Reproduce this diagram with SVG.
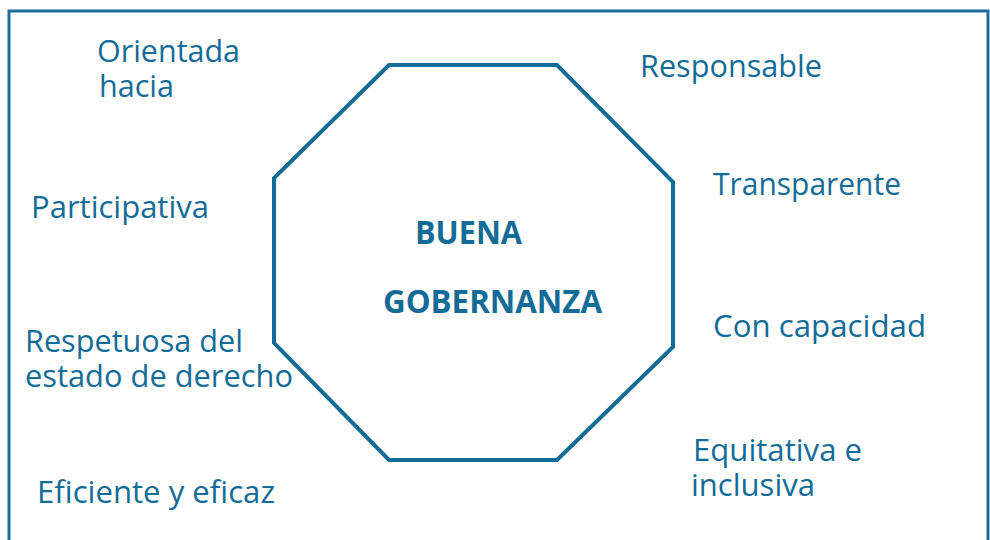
<svg xmlns="http://www.w3.org/2000/svg" width="990" height="540" viewBox="0 0 990 540">
<style>
.t{font-family:"Open Sans","Noto Sans",sans-serif;font-size:31px;fill:#136b97}
.b{font-family:"Open Sans","Noto Sans",sans-serif;font-size:32px;font-weight:bold;fill:#136b97}
</style>
<rect x="0" y="0" width="990" height="540" fill="#fff"/>
<path d="M9 545 V11 H988 V545" fill="none" stroke="#1a6d9a" stroke-width="3"/>
<g id="octagon">
<polygon points="389,65 557,65 673,182 673,347 557,460 389,460 274,343 274,178" fill="none" stroke="#136b97" stroke-width="4"/>
<text class="b"><tspan x="415" y="244" textLength="107" lengthAdjust="spacingAndGlyphs">BUENA</tspan><tspan x="383" y="313" textLength="219" lengthAdjust="spacingAndGlyphs">GOBERNANZA</tspan></text>
</g>
<g id="label-orientada">
<text class="t"><tspan x="97" y="62" textLength="143" lengthAdjust="spacingAndGlyphs">Orientada</tspan><tspan x="99" y="97" textLength="75" lengthAdjust="spacingAndGlyphs">hacia</tspan></text>
</g>
<g id="label-responsable">
<text class="t" x="640" y="77" textLength="182" lengthAdjust="spacingAndGlyphs">Responsable</text>
</g>
<g id="label-participativa">
<text class="t" x="31" y="218" textLength="178" lengthAdjust="spacingAndGlyphs">Participativa</text>
</g>
<g id="label-transparente">
<text class="t" x="713" y="195" textLength="188" lengthAdjust="spacingAndGlyphs">Transparente</text>
</g>
<g id="label-respetuosa">
<text class="t"><tspan x="25" y="352" textLength="218" lengthAdjust="spacingAndGlyphs">Respetuosa del</tspan><tspan x="25" y="387" textLength="268" lengthAdjust="spacingAndGlyphs">estado de derecho</tspan></text>
</g>
<g id="label-capacidad">
<text class="t" x="713" y="337" textLength="213" lengthAdjust="spacingAndGlyphs">Con capacidad</text>
</g>
<g id="label-equitativa">
<text class="t"><tspan x="693" y="461" textLength="169" lengthAdjust="spacingAndGlyphs">Equitativa e</tspan><tspan x="691" y="496" textLength="124" lengthAdjust="spacingAndGlyphs">inclusiva</tspan></text>
</g>
<g id="label-eficiente">
<text class="t" x="37" y="503" textLength="238" lengthAdjust="spacingAndGlyphs">Eficiente y eficaz</text>
</g>
<g id="connectors"/>
</svg>
